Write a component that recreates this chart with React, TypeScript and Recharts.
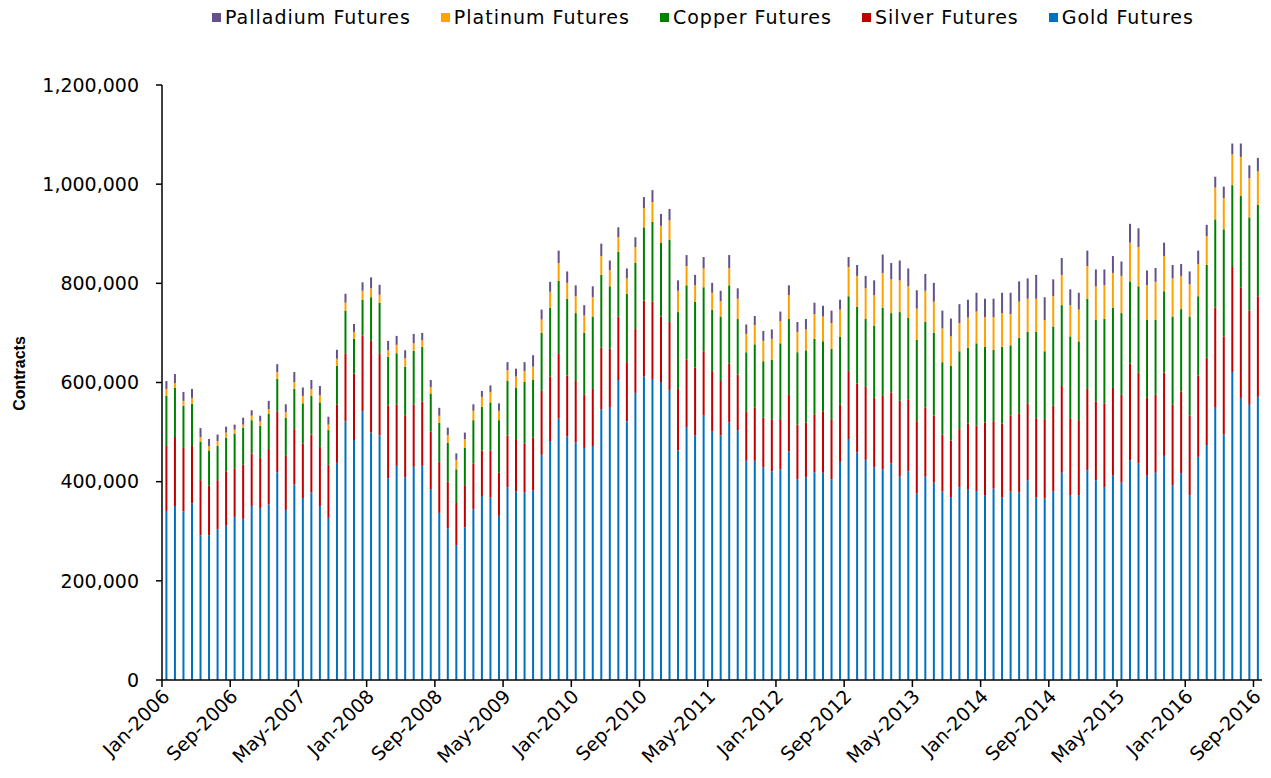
import { BarChart, Bar, XAxis, YAxis } from 'recharts';

// monthly open interest, Jan-2006 .. Sep-2016, thousands of contracts
const MONTH_NAMES = ['Jan', 'Feb', 'Mar', 'Apr', 'May', 'Jun', 'Jul', 'Aug', 'Sep', 'Oct', 'Nov', 'Dec'];
const FIRST_YEAR = 2006;
const MONTH_COUNT = 129;
const months = Array.from({ length: MONTH_COUNT }, (_, i) => `${MONTH_NAMES[i % 12]}-${FIRST_YEAR + Math.floor(i / 12)}`);

const gold = [
  341, 351, 340, 356, 292, 292, 304, 311, 329, 325,
  351, 347, 354, 419, 343, 394, 367, 378, 351, 327,
  438, 522, 484, 542, 499, 493, 407, 432, 409, 430,
  432, 385, 337, 306, 272, 308, 344, 371, 368, 331,
  389, 380, 378, 382, 454, 482, 527, 491, 479, 468,
  472, 546, 549, 605, 522, 579, 612, 607, 601, 585,
  463, 510, 493, 533, 501, 493, 519, 504, 442, 442,
  429, 421, 425, 461, 405, 409, 419, 418, 405, 440,
  486, 459, 444, 429, 425, 437, 410, 421, 376, 410,
  398, 380, 369, 389, 385, 381, 373, 386, 368, 380,
  378, 403, 368, 366, 380, 418, 373, 373, 423, 403,
  389, 412, 398, 443, 437, 412, 418, 452, 393, 417,
  373, 450, 474, 549, 495, 621, 569, 555, 571,
];

const silver = [
  131, 139, 128, 116, 111, 100, 99, 110, 98, 109,
  106, 101, 112, 123, 109, 112, 110, 117, 119, 107,
  118, 137, 134, 153, 185, 166, 147, 124, 125, 126,
  130, 116, 103, 94, 85, 85, 93, 92, 95, 87,
  104, 104, 99, 107, 129, 130, 132, 123, 124, 107,
  115, 124, 119, 128, 119, 129, 153, 156, 132, 137,
  124, 136, 137, 130, 122, 110, 119, 112, 100, 107,
  100, 105, 101, 114, 110, 110, 117, 124, 121, 115,
  137, 139, 147, 140, 148, 143, 153, 144, 146, 139,
  135, 115, 114, 117, 132, 132, 146, 136, 149, 153,
  160, 155, 160, 160, 173, 175, 155, 151, 164, 159,
  169, 177, 177, 195, 183, 157, 157, 168, 162, 165,
  160, 164, 176, 202, 198, 212, 222, 190, 203,
];

const copper = [
  101, 99, 85, 85, 78, 71, 69, 68, 70, 75,
  67, 65, 71, 65, 77, 81, 81, 78, 90, 70,
  78, 86, 70, 72, 88, 102, 98, 103, 98, 108,
  110, 77, 79, 78, 68, 75, 87, 88, 97, 106,
  110, 106, 124, 117, 117, 139, 146, 155, 137, 125,
  146, 147, 126, 131, 138, 133, 148, 161, 149, 166,
  155, 150, 133, 129, 124, 130, 158, 112, 119, 128,
  114, 120, 153, 153, 146, 146, 152, 141, 142, 137,
  151, 155, 137, 146, 178, 160, 179, 165, 164, 173,
  167, 146, 151, 157, 153, 166, 153, 144, 155, 142,
  152, 144, 174, 137, 160, 163, 165, 159, 182, 164,
  170, 162, 165, 166, 174, 157, 151, 164, 178, 166,
  200, 160, 187, 178, 216, 165, 185, 188, 184,
];

const platinum = [
  14, 10, 10, 12, 9, 9, 10, 10, 8, 6,
  9, 9, 9, 14, 11, 14, 15, 14, 14, 11,
  14, 16, 14, 18, 18, 16, 13, 17, 17, 15,
  13, 13, 14, 16, 19, 18, 19, 20, 21, 19,
  22, 22, 22, 26, 27, 32, 36, 32, 34, 35,
  39, 38, 33, 29, 31, 32, 39, 40, 34, 39,
  43, 39, 33, 38, 34, 31, 35, 41, 37, 39,
  41, 42, 45, 48, 41, 42, 50, 50, 52, 55,
  59, 62, 62, 61, 70, 68, 64, 64, 63, 63,
  63, 68, 59, 57, 61, 64, 60, 66, 68, 63,
  73, 67, 67, 63, 61, 61, 63, 64, 66, 68,
  68, 70, 75, 78, 79, 70, 77, 71, 77, 67,
  65, 65, 58, 64, 63, 62, 79, 79, 68,
];

const palladium = [
  16, 18, 18, 18, 18, 14, 13, 12, 10, 14,
  11, 11, 17, 16, 16, 20, 17, 18, 19, 16,
  18, 18, 16, 17, 22, 20, 19, 18, 16, 19,
  15, 14, 16, 15, 13, 13, 13, 12, 13, 15,
  16, 16, 18, 23, 20, 20, 25, 23, 22, 21,
  22, 25, 19, 20, 20, 20, 22, 24, 24, 23,
  21, 22, 21, 23, 20, 21, 26, 21, 19, 18,
  20, 19, 19, 20, 20, 21, 23, 22, 25, 20,
  20, 22, 25, 30, 37, 33, 40, 36, 37, 34,
  38, 36, 36, 38, 36, 38, 37, 37, 41, 43,
  41, 41, 48, 46, 34, 34, 32, 34, 31, 34,
  32, 34, 29, 38, 38, 30, 28, 27, 27, 24,
  26, 27, 23, 22, 23, 22, 27, 26, 27,
];

const Y_TICKS = [0, 200000, 400000, 600000, 800000, 1000000, 1200000];

// bottom of the stack first
const SERIES = [
  { key: 'gold', name: 'Gold Futures', color: '#0070C0' },
  { key: 'silver', name: 'Silver Futures', color: '#C00000' },
  { key: 'copper', name: 'Copper Futures', color: '#008000' },
  { key: 'platinum', name: 'Platinum Futures', color: '#FFA200' },
  { key: 'palladium', name: 'Palladium Futures', color: '#64508A' },
];

const data = months.map((month, i) => ({
  month,
  gold: gold[i] * 1000,
  silver: silver[i] * 1000,
  copper: copper[i] * 1000,
  platinum: platinum[i] * 1000,
  palladium: palladium[i] * 1000,
}));

const WIDTH = 1271;
const HEIGHT = 778;
const MARGIN = { top: 85, right: 9, left: 0, bottom: 0 };
const Y_AXIS_W = 162;
const X_AXIS_H = 98;
const HALF_BAND = (WIDTH - MARGIN.right - Y_AXIS_W) / MONTH_COUNT / 2;
const FONT = '"DejaVu Sans", "Liberation Sans", Arial, sans-serif';

// Excel-style: tick mark sits on the left edge of the month, label rotated up to it
function MonthTick({ x, y, payload }: any) {
  const bx = x - HALF_BAND;
  const ax = bx + 4;
  const ay = y + 13;
  return (
    <g>
      <line x1={bx} y1={y} x2={bx} y2={y + 7} stroke="#000" strokeWidth={1.5} />
      <text
        x={ax}
        y={ay}
        dy="0.35em"
        textAnchor="end"
        fontSize={19}
        fontFamily={FONT}
        fill="#000"
        transform={`rotate(-45, ${ax}, ${ay})`}
      >
        {payload.value}
      </text>
    </g>
  );
}

function ContractsLabel({ viewBox }: any) {
  const cx = 19;
  const cy = viewBox.y + viewBox.height / 2 - 9;
  return (
    <text
      x={cx}
      y={cy}
      dy="0.35em"
      textAnchor="middle"
      fontSize={16}
      fontWeight="bold"
      fontFamily='"Liberation Sans", Arial, sans-serif'
      fill="#000"
      transform={`rotate(-90, ${cx}, ${cy})`}
    >
      Contracts
    </text>
  );
}

export default function App() {
  const legendItems = [...SERIES].reverse();
  return (
    <div style={{ position: 'absolute', left: 0, top: 0, width: WIDTH, height: HEIGHT, background: '#fff' }}>
      <div
        style={{
          position: 'absolute',
          top: 6,
          left: 212,
          display: 'flex',
          alignItems: 'center',
          gap: 30,
          fontFamily: FONT,
          fontSize: 19,
          letterSpacing: 1,
          lineHeight: '22px',
          color: '#000',
          whiteSpace: 'nowrap',
        }}
      >
        {legendItems.map((s) => (
          <div key={s.key} style={{ display: 'flex', alignItems: 'center' }}>
            <span style={{ width: 9, height: 9, background: s.color, marginRight: 4, display: 'inline-block' }} />
            <span>{s.name}</span>
          </div>
        ))}
      </div>
      <BarChart width={WIDTH} height={HEIGHT} data={data} margin={MARGIN} barCategoryGap="40%">
        <XAxis
          dataKey="month"
          height={X_AXIS_H}
          interval={7}
          tick={<MonthTick />}
          tickLine={false}
          tickSize={0}
          tickMargin={0}
          axisLine={{ stroke: '#000', strokeWidth: 1.5 }}
        />
        <YAxis
          width={Y_AXIS_W}
          domain={[0, 1200000]}
          ticks={Y_TICKS}
          tickFormatter={(v: number) => v.toLocaleString('en-US')}
          tick={{ fill: '#000', fontSize: 19, fontFamily: FONT }}
          tickSize={6}
          tickMargin={17}
          axisLine={{ stroke: '#000', strokeWidth: 1.5 }}
          tickLine={{ stroke: '#000', strokeWidth: 1.5 }}
          label={{ content: ContractsLabel }}
        />
        {SERIES.map((s) => (
          <Bar key={s.key} dataKey={s.key} name={s.name} stackId="oi" fill={s.color} isAnimationActive={false} />
        ))}
      </BarChart>
    </div>
  );
}
